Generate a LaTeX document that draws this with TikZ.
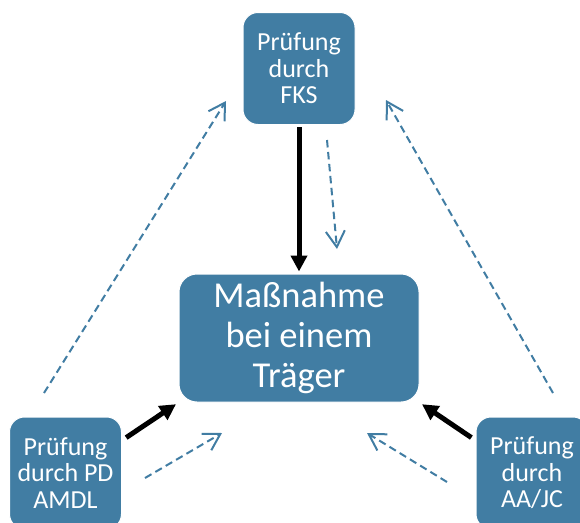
\documentclass[tikz,border=0pt]{standalone}
\usepackage{fontspec}
\setmainfont{Carlito}
\usepackage{tikz}
\usetikzlibrary{positioning}
\usetikzlibrary{arrows.meta}
\definecolor{boxblue}{RGB}{65,125,163}

\begin{document}
\begin{tikzpicture}[x=1pt,y=-1pt,
  box node/.style={rectangle,rounded corners=15pt,fill=boxblue,draw=white,line width=1pt,text=white,align=center,inner sep=0pt,minimum width=112pt,minimum height=112pt,font=\fontsize{26}{26.5}\selectfont},
  big node/.style={box node,rounded corners=18pt,minimum width=240pt,minimum height=128pt,font=\fontsize{36.5}{40}\selectfont},
  solid arrow/.style={-{Triangle[length=16pt,width=16pt]},line width=5pt,black},
  check arrow/.style={-{Straight Barb[length=16pt,width=19pt]},line width=2pt,boxblue,dash pattern=on 7.5pt off 4.5pt}]
  \useasboundingbox (0,0) rectangle (580,522);
  \node (mass) at (299,338) [big node] {Maßnahme\\bei einem\\Träger};
  \node (fks) at (299,68.5) [box node] {Prüfung\\durch\\FKS};
  \node (pd) at (65.5,473) [box node] {Prüfung\\durch PD\\AMDL};
  \node (aa) at (532,473) [box node] {Prüfung\\durch\\AA/JC};
  % ends of the dashed arrows
  \coordinate (fks out) at (327,140);
  \coordinate (fks in) at (337,249);
  \coordinate (pd out) at (145,478);
  \coordinate (pd in) at (222,433);
  \coordinate (aa out) at (447,482);
  \coordinate (aa in) at (367,433);
  \coordinate (left out) at (44,393);
  \coordinate (left in) at (226,101);
  \coordinate (right out) at (553,393);
  \coordinate (right in) at (386,100);
  \draw[solid arrow,shorten <=2pt,shorten >=2pt] (fks) -- (mass);
  \draw[solid arrow,shorten <=5pt,shorten >=3pt] (pd.30) -- (mass.south west);
  \draw[solid arrow,shorten <=5pt,shorten >=3pt] (aa.150) -- (mass.south east);
  \draw[check arrow] (fks out) -- (fks in);
  \draw[check arrow] (pd out) -- (pd in);
  \draw[check arrow] (aa out) -- (aa in);
  \draw[check arrow] (left out) -- (left in);
  \draw[check arrow] (right out) -- (right in);
\end{tikzpicture}
\end{document}
